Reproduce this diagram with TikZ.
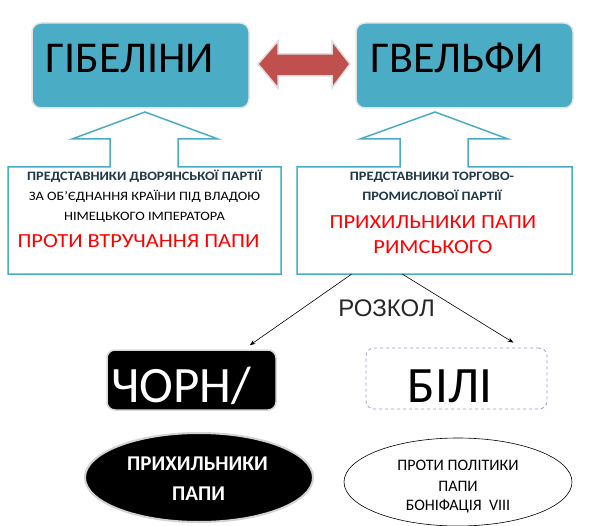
\documentclass[tikz,border=0pt]{standalone}
\usepackage{fontspec}
\setmainfont{Carlito}
\newfontfamily\widefont[FakeStretch=1.12]{Carlito}
\newfontfamily\arialfont{Liberation Sans}
\usetikzlibrary{arrows.meta,shapes.geometric}
\definecolor{tealbox}{RGB}{75,172,198}
\definecolor{redarrow}{RGB}{192,80,77}
\definecolor{darktext}{RGB}{31,56,74}
\definecolor{lavender}{RGB}{165,152,200}

\begin{document}
\begin{tikzpicture}[x=1pt, y=-1pt, >=Stealth]
    \tikzset{
        party/.style={rounded corners=9pt, fill=tealbox, draw=gray!20, line width=1.5pt,
            minimum width=217pt, minimum height=85pt, inner sep=0pt},
        callout/.style={draw=tealbox, line width=1.5pt, line join=miter},
        lbl/.style={inner sep=0pt, anchor=base},
        small/.style={lbl, font=\widefont\fontsize{12.8}{15}\selectfont},
        smallbold/.style={lbl, font=\widefont\fontsize{12.8}{15}\selectfont\bfseries, text=darktext},
        redline/.style={lbl, text=red, font=\widefont\fontsize{20}{24}\selectfont},
        big/.style={lbl, font=\fontsize{44}{50}\selectfont},
        huge/.style={lbl, font=\fontsize{51}{55}\selectfont}
    }
    \useasboundingbox (0,0) rectangle (604,526);
    \fill[white] (0,0) rectangle (604,526);

    % Parties
    \node[party] (gib) at (140.5,65.5) {};
    \node[party] (gvel) at (464.5,65.5) {};
    \node[big] (gibt) at (130,73) {ГІБЕЛІНИ};
    \node[big] (gvelt) at (457,73) {ГВЕЛЬФИ};

    % Double arrow between the parties
    \draw[fill=redarrow, draw=gray!25, line width=1.5pt]
        (258,64) -- (278,41) -- (278,54) -- (332,54) -- (332,41) -- (350,64)
        -- (332,88) -- (332,76) -- (278,76) -- (278,88) -- cycle;

    % Callout boxes
    \draw[callout] (8,167) -- (110,167) -- (110,139) -- (72,139) -- (145,112) -- (218,139)
        -- (178,139) -- (178,167) -- (281,167) -- (281,274) -- (8,274) -- cycle;
    \draw[callout] (297,167) -- (400,167) -- (400,139) -- (360,139) -- (435,112) -- (508,139)
        -- (468,139) -- (468,167) -- (572,167) -- (572,274) -- (297,274) -- cycle;
    \node[inner sep=0pt, minimum width=275pt, minimum height=107pt] (gvbox) at (434.5,220.5) {};

    % Left box text
    \node[smallbold] (gib1) at (144.5,181) {ПРЕДСТАВНИКИ ДВОРЯНСЬКОЇ ПАРТІЇ};
    \node[small] (gib2) at (144.5,201) {ЗА ОБ’ЄДНАННЯ КРАЇНИ ПІД ВЛАДОЮ};
    \node[small] (gib3) at (144.5,221) {НІМЕЦЬКОГО ІМПЕРАТОРА};
    \node[redline] (gib4) at (138.5,247.2) {ПРОТИ ВТРУЧАННЯ ПАПИ};

    % Right box text
    \node[smallbold] (gv1) at (432,181) {ПРЕДСТАВНИКИ ТОРГОВО-};
    \node[smallbold] (gv2) at (432,201) {ПРОМИСЛОВОЇ ПАРТІЇ};
    \node[redline] (gv3) at (433,228.6) {ПРИХИЛЬНИКИ ПАПИ};
    \node[redline] (gv4) at (433,253.6) {РИМСЬКОГО};

    % Split
    \node[lbl, font=\arialfont\fontsize{24}{26}\selectfont, text=black!85] (rozkol) at (386.5,316) {РОЗКОЛ};
    \node[rounded corners=8pt, fill=black, draw=gray!30, line width=1.5pt,
        minimum width=169pt, minimum height=60pt] (chorni) at (191.5,380) {};
    \node[rounded corners=8pt, draw=lavender, dashed, line width=0.8pt,
        minimum width=181pt, minimum height=61pt] (bili) at (456.5,378.5) {};
    \node[huge, text=white] (chornit) at (181,402) {ЧОРН/};
    \node[huge] (bilit) at (450,402) {БІЛІ};
    \draw[->, line width=0.6pt] ([xshift=-83pt]gvbox.south) -- ([xshift=-27pt, yshift=4pt]chorni.north east);
    \draw[->, line width=0.6pt] ([xshift=-32pt]gvbox.south) -- ([xshift=-34pt, yshift=5pt]bili.north east);

    % Ellipses
    \node[ellipse, fill=black, draw=gray!35, line width=2pt,
        minimum width=228pt, minimum height=89pt] (prykh) at (199,477.5) {};
    \node[lbl, font=\fontsize{21}{24}\selectfont\bfseries, text=white] (prykh1) at (197.5,470) {ПРИХИЛЬНИКИ};
    \node[lbl, font=\fontsize{21}{24}\selectfont\bfseries, text=white] (prykh2) at (198.5,500) {ПАПИ};
    \node[ellipse, draw=black, line width=0.6pt,
        minimum width=228pt, minimum height=88pt] (proty) at (458,482) {};
    \node[lbl, font=\fontsize{16}{18}\selectfont] (proty1) at (458,470) {ПРОТИ ПОЛІТИКИ};
    \node[lbl, font=\fontsize{16}{18}\selectfont] (proty2) at (458,491) {ПАПИ};
    \node[lbl, font=\fontsize{16}{18}\selectfont] (proty3) at (458,510) {БОНІФАЦІЯ~~VIII};
\end{tikzpicture}
\end{document}
